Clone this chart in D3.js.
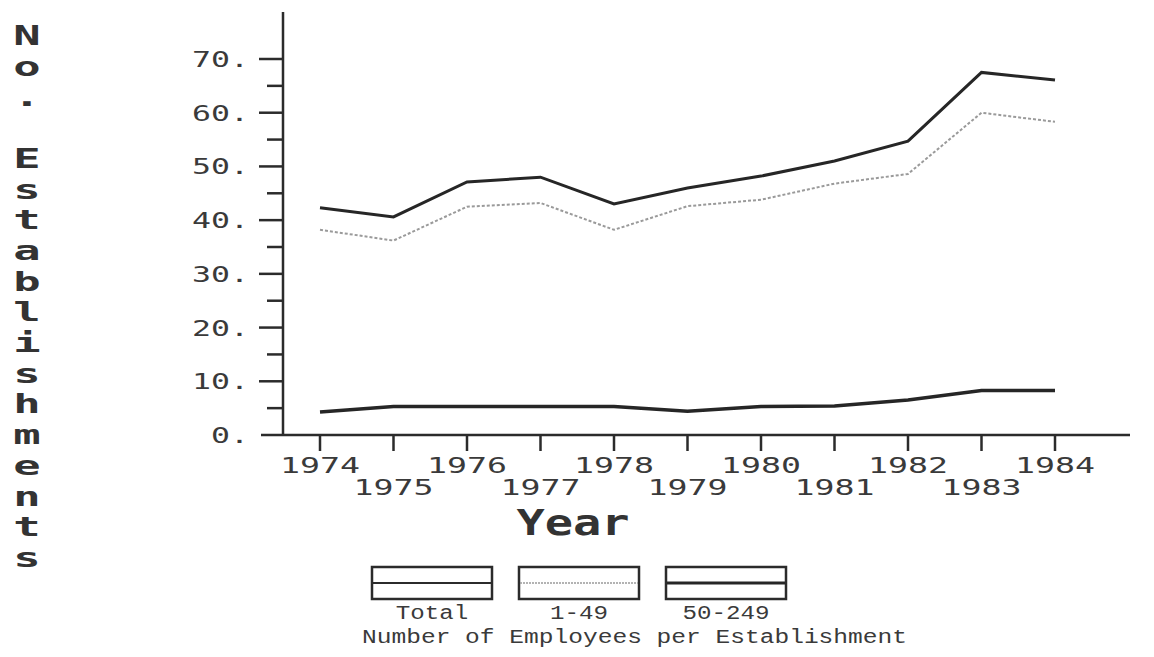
<!DOCTYPE html>
<html>
<head>
<meta charset="utf-8">
<script src="https://cdn.jsdelivr.net/npm/d3@7"></script>
<style>
  html, body { margin: 0; padding: 0; background: #fff; }
  svg { display: block; }
</style>
</head>
<body>
<svg id="chart" width="1154" height="657"></svg>
<script>
// Establishments by size class, 1974-1984
const years = [1974, 1975, 1976, 1977, 1978, 1979, 1980, 1981, 1982, 1983, 1984];
const totalValues = [42.3, 40.6, 47.1, 48.0, 43.0, 46.0, 48.2, 51.0, 54.7, 67.5, 66.1];
const smallValues = [38.2, 36.2, 42.5, 43.2, 38.2, 42.6, 43.8, 46.8, 48.6, 60.0, 58.3];
const mediumValues = [4.3, 5.3, 5.3, 5.3, 5.3, 4.4, 5.3, 5.4, 6.5, 8.3, 8.3];
const yTicks = [0, 10, 20, 30, 40, 50, 60, 70];
const yMinorTicks = [5, 15, 25, 35, 45, 55, 65];
const legendLabels = ["Total", "1-49", "50-249"];
const legendTitle = "Number of Employees per Establishment";
const yTitle = "No. Establishments";
const xTitle = "Year";

const ink = "#2b2b2b";
const svg = d3.select("#chart");

const x = d3.scaleLinear().domain([1974, 1984]).range([320, 1055]);
const y = d3.scaleLinear().domain([0, 70]).range([435, 59]);

const plotFont = "'DejaVu Sans Mono', monospace";
const typeFont = "'Liberation Mono', 'Courier New', monospace";

// axis lines
svg.append("line").attr("x1", 283).attr("x2", 283).attr("y1", 12).attr("y2", y(0))
  .attr("stroke", ink).attr("stroke-width", 2.5);
svg.append("line").attr("x1", 261).attr("x2", 1130).attr("y1", y(0)).attr("y2", y(0))
  .attr("stroke", ink).attr("stroke-width", 2.5);

// y ticks
svg.append("g").selectAll("line").data(yTicks.filter(d => d > 0)).join("line")
  .attr("x1", 259).attr("x2", 283).attr("y1", d => y(d)).attr("y2", d => y(d))
  .attr("stroke", ink).attr("stroke-width", 2.5);
svg.append("g").selectAll("line").data(yMinorTicks).join("line")
  .attr("x1", 267).attr("x2", 283).attr("y1", d => y(d)).attr("y2", d => y(d))
  .attr("stroke", ink).attr("stroke-width", 2.5);

// y tick labels, e.g. "70."
svg.append("g").selectAll("text").data(yTicks).join("text")
  .attr("x", 249).attr("y", d => y(d) + 8)
  .attr("text-anchor", "end")
  .attr("font-family", plotFont).attr("font-size", 22)
  .attr("fill", "#3a3a3a")
  .attr("textLength", d => (String(d) + ".").length * 19)
  .attr("lengthAdjust", "spacingAndGlyphs")
  .text(d => d + ".");

// x ticks
svg.append("g").selectAll("line").data(years).join("line")
  .attr("x1", d => x(d)).attr("x2", d => x(d)).attr("y1", y(0)).attr("y2", y(0) + 16)
  .attr("stroke", ink).attr("stroke-width", 2.5);

// x tick labels in two staggered rows
svg.append("g").selectAll("text").data(years).join("text")
  .attr("x", d => x(d))
  .attr("y", (d, i) => i % 2 === 0 ? 473 : 495)
  .attr("text-anchor", "middle")
  .attr("font-family", plotFont).attr("font-size", 22)
  .attr("fill", "#3a3a3a")
  .attr("textLength", 80)
  .attr("lengthAdjust", "spacingAndGlyphs")
  .text(d => d);

// x title
svg.append("text")
  .attr("x", 573).attr("y", 535)
  .attr("text-anchor", "middle")
  .attr("font-family", plotFont).attr("font-weight", "bold").attr("font-size", 36)
  .attr("fill", "#333")
  .attr("textLength", 113)
  .attr("lengthAdjust", "spacingAndGlyphs")
  .text(xTitle);

// y title, stacked letters
svg.append("g").selectAll("text").data(yTitle.split("")).join("text")
  .attr("transform", (d, i) => `translate(27,${45 + i * 30.7}) scale(1.75,1)`)
  .attr("text-anchor", "middle")
  .attr("font-family", plotFont).attr("font-weight", "bold").attr("font-size", 26)
  .attr("fill", "#333")
  .text(d => d);

// series lines
const line = d3.line().x(d => x(d[0])).y(d => y(d[1]));
const zipYears = vals => years.map((yr, i) => [yr, vals[i]]);

const seriesStyles = [
  { values: totalValues, stroke: "#262626", width: 3, dash: null },
  { values: smallValues, stroke: "#9a9a9a", width: 2, dash: "3,2" },
  { values: mediumValues, stroke: "#262626", width: 3.5, dash: null }
];

svg.append("g").selectAll("path").data(seriesStyles).join("path")
  .attr("d", s => line(zipYears(s.values)))
  .attr("fill", "none")
  .attr("stroke", s => s.stroke)
  .attr("stroke-width", s => s.width)
  .attr("stroke-dasharray", s => s.dash);

// legend
const legendX = [372, 519, 666];
const legendSwatch = [
  { stroke: "#2b2b2b", width: 2, dash: null },
  { stroke: "#9a9a9a", width: 1.5, dash: "2,1" },
  { stroke: "#262626", width: 3, dash: null }
];
const lg = svg.append("g").selectAll("g").data(legendLabels).join("g")
  .attr("transform", (d, i) => `translate(${legendX[i]},567)`);
lg.append("rect").attr("width", 120).attr("height", 32)
  .attr("fill", "none").attr("stroke", ink).attr("stroke-width", 2.5);
lg.append("line").attr("x1", 1).attr("x2", 119).attr("y1", 16).attr("y2", 16)
  .attr("stroke", (d, i) => legendSwatch[i].stroke)
  .attr("stroke-width", (d, i) => legendSwatch[i].width)
  .attr("stroke-dasharray", (d, i) => legendSwatch[i].dash);
lg.append("text")
  .attr("x", 60).attr("y", 52)
  .attr("text-anchor", "middle")
  .attr("font-family", typeFont).attr("font-size", 20)
  .attr("fill", "#3a3a3a")
  .attr("textLength", d => d.length * 14.5)
  .attr("lengthAdjust", "spacingAndGlyphs")
  .text(d => d);

svg.append("text")
  .attr("x", 362).attr("y", 643)
  .attr("font-family", typeFont).attr("font-size", 20)
  .attr("fill", "#3a3a3a")
  .attr("textLength", 545)
  .attr("lengthAdjust", "spacingAndGlyphs")
  .text(legendTitle);
</script>
</body>
</html>
